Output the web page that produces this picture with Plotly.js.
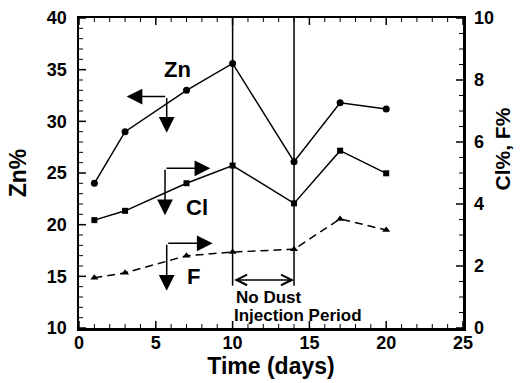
<!DOCTYPE html>
<html>
<head>
<meta charset="utf-8">
<script src="https://cdn.plot.ly/plotly-3.0.1.min.js"></script>
<style>
  html, body { margin: 0; padding: 0; background: #fff; }
  #chart { width: 520px; height: 383px; }
</style>
</head>
<body>
<div id="chart"></div>
<script>
// Sampling days
const days = [1, 3, 7, 10, 14, 17, 20];

// Zn content (%), left axis
const zn = [24.0, 29.0, 33.0, 35.6, 26.1, 31.8, 31.2];
// Cl and F content (%), right axis
const cl = [3.48, 3.78, 4.67, 5.24, 4.02, 5.72, 4.99];
const f  = [1.62, 1.78, 2.33, 2.45, 2.54, 3.52, 3.16];

const xTicks = [0, 5, 10, 15, 20, 25];
const leftTicks = [10, 15, 20, 25, 30, 35, 40];
const rightTicks = [0, 2, 4, 6, 8, 10];

// Start and end of the period without dust injection (days)
const noDust = [10, 14];

const FONT = 'Liberation Sans, Arial, Helvetica, sans-serif';
const INK = '#000';

const W = 520, H = 383;
const M = { l: 79, r: 57, t: 18, b: 55 };
const PW = W - M.l - M.r, PH = H - M.t - M.b;

const bold = v => '<b>' + v + '</b>';

const traces = [
  {
    x: days, y: zn, name: 'Zn', type: 'scatter', mode: 'lines+markers',
    line: { color: INK, width: 1.5 },
    marker: { symbol: 'circle', size: 7, color: INK }
  },
  {
    x: days, y: cl, name: 'Cl', type: 'scatter', mode: 'lines+markers', yaxis: 'y2',
    line: { color: INK, width: 1.5 },
    marker: { symbol: 'square', size: 6, color: INK }
  },
  {
    x: days, y: f, name: 'F', type: 'scatter', mode: 'lines+markers', yaxis: 'y2',
    line: { color: INK, width: 1.5, dash: '8px,5px' },
    marker: { symbol: 'triangle-up', size: 7, color: INK }
  }
];

function axis(ticks, extra) {
  return Object.assign({
    showgrid: false, zeroline: false,
    showline: true, linecolor: INK, linewidth: 2.5,
    range: [ticks[0], ticks[ticks.length - 1]],
    tickmode: 'array', tickvals: ticks, ticktext: ticks.map(bold),
    ticks: '',
    tickfont: { family: FONT, size: 18, color: INK }
  }, extra);
}

// Inward tick marks in paper units: majors at the labelled values, minors every `step`
function tickMarks(ticks, step, side) {
  const out = [];
  const lo = ticks[0], hi = ticks[ticks.length - 1];
  const n = Math.round((hi - lo) / step);
  for (let i = 0; i <= n; i++) {
    const v = lo + i * step;
    const p = (v - lo) / (hi - lo);
    const major = ticks.some(t => Math.abs(t - v) < 1e-9);
    const len = major ? 7 : 4;
    const line = { color: INK, width: major ? 1.5 : 1 };
    const s = { type: 'line', xref: 'paper', yref: 'paper', layer: 'above', line: line };
    if (side === 'bottom') Object.assign(s, { x0: p, x1: p, y0: 0, y1: len / PH });
    if (side === 'top') Object.assign(s, { x0: p, x1: p, y0: 1, y1: 1 - len / PH });
    if (side === 'left') Object.assign(s, { x0: 0, x1: len / PW, y0: p, y1: p });
    if (side === 'right') Object.assign(s, { x0: 1, x1: 1 - len / PW, y0: p, y1: p });
    out.push(s);
  }
  return out;
}

// L-shaped pointer: a horizontal and a vertical arrow sharing one corner
function pointer(cx, cy, hx, vy) {
  const base = {
    xref: 'x', yref: 'y', axref: 'x', ayref: 'y',
    showarrow: true, arrowhead: 2, arrowsize: 2.1, arrowwidth: 1.5,
    arrowcolor: INK, text: ''
  };
  return [
    Object.assign({}, base, { x: hx, y: cy, ax: cx, ay: cy }),
    Object.assign({}, base, { x: cx, y: vy, ax: cx, ay: cy })
  ];
}

function label(text, x, y, size) {
  return {
    x: x, y: y, xref: 'x', yref: 'y', text: bold(text), showarrow: false,
    font: { family: FONT, size: size, color: INK }
  };
}

const annotations = []
  .concat(pointer(5.71, 32.4, 3.1, 28.9))
  .concat(pointer(5.6, 25.45, 8.55, 20.9))
  .concat(pointer(5.71, 18.2, 8.7, 13.6))
  .concat([
    label('Zn', 6.4, 35.0, 22),
    label('Cl', 7.7, 21.7, 22),
    label('F', 7.45, 15.0, 22),
    label('No Dust', 12.4, 13.0, 17),
    label('Injection Period', 14.25, 11.25, 17),
    {
      x: noDust[1], y: 14.65, ax: noDust[0], ay: 14.65,
      xref: 'x', yref: 'y', axref: 'x', ayref: 'y',
      showarrow: true, arrowhead: 5, startarrowhead: 5, arrowside: 'end+start',
      arrowsize: 1.4, startarrowsize: 1.4, arrowwidth: 1.5, arrowcolor: INK, text: ''
    },
    // right-hand axis title (pixel position converted to paper fractions)
    {
      x: (515 - M.l) / PW, y: (H - 149 - M.b) / PH, xref: 'paper', yref: 'paper',
      showarrow: false, text: bold('Cl%, F%'), textangle: -90,
      font: { family: FONT, size: 21, color: INK }
    }
  ]);

const shapes = noDust.map(d => ({
  type: 'line', xref: 'x', yref: 'y',
  x0: d, x1: d, y0: 14.1, y1: 40,
  line: { color: INK, width: 1.5 }
}))
  .concat(tickMarks(xTicks, 1, 'bottom'))
  .concat(tickMarks(xTicks, 1, 'top'))
  .concat(tickMarks(leftTicks, 1, 'left'))
  .concat(tickMarks(rightTicks, 0.5, 'right'));

const layout = {
  width: W, height: H,
  margin: { l: M.l, r: M.r, t: M.t, b: M.b, pad: 0 },
  paper_bgcolor: '#fff', plot_bgcolor: '#fff',
  showlegend: false,
  font: { family: FONT, color: INK },
  xaxis: axis(xTicks, {
    mirror: true, ticklabelstandoff: -3,
    title: { text: bold('Time (days)'), standoff: 0,
             font: { family: FONT, size: 23, color: INK } }
  }),
  yaxis: axis(leftTicks, {
    ticklabelstandoff: 6,
    title: { text: bold('Zn%'), standoff: 14,
             font: { family: FONT, size: 23, color: INK } }
  }),
  yaxis2: axis(rightTicks, {
    overlaying: 'y', side: 'right', ticklabelstandoff: 5
  }),
  shapes: shapes,
  annotations: annotations
};

Plotly.newPlot('chart', traces, layout, { displayModeBar: false, staticPlot: true });
</script>
</body>
</html>
